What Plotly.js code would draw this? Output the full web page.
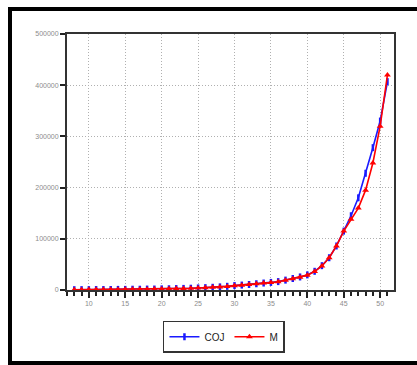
<!DOCTYPE html>
<html>
<head>
<meta charset="utf-8">
<script src="https://cdn.plot.ly/plotly-3.0.1.min.js"></script>
<style>
  html, body { margin: 0; padding: 0; background: #ffffff; }
  #wrap { position: relative; width: 417px; height: 365px; overflow: hidden; }
  #chart { position: absolute; left: 0; top: 0; width: 417px; height: 365px; }
  #frame { position: absolute; left: 8px; top: 7px; width: 430px; height: 358px;
           box-sizing: border-box; border: 4px solid #000; pointer-events: none; z-index: 10; }
</style>
</head>
<body>
<div id="wrap">
  <div id="chart"></div>
  <div id="frame"></div>
</div>
<script>
// x positions (integer steps)
const xValues = [8,9,10,11,12,13,14,15,16,17,18,19,20,21,22,23,24,25,26,27,28,29,30,31,32,33,34,35,36,37,38,39,40,41,42,43,44,45,46,47,48,49,50,51];

const cojValues = [600,700,700,900,900,1000,1200,1200,1500,1500,1800,1900,2200,2400,2800,3100,3500,4000,4600,5300,6100,7200,8600,9600,10800,12200,13600,14800,16400,19300,22400,25500,29500,36500,47500,63000,86000,115000,145000,180000,228000,278000,330000,407000];

const mValues = [500,600,800,800,1000,1000,1100,1300,1400,1600,1700,2000,2100,2500,2700,3000,3400,3900,4500,5200,6000,7000,8500,9500,10500,12000,13500,14500,16000,19000,22000,25000,29000,36000,47000,63000,86000,115000,138000,160000,195000,248000,320000,420000];

const xTickVals = [10,15,20,25,30,35,40,45,50];
const yTickVals = [0,100000,200000,300000,400000,500000];

const traces = [
  {
    x: xValues, y: cojValues, name: 'COJ', type: 'scatter', mode: 'lines+markers',
    line: {color: '#1a1aff', width: 1.6},
    marker: {symbol: 'line-ns', size: 5, color: '#1a1aff', line: {color: '#1a1aff', width: 2.5}}
  },
  {
    x: xValues, y: mValues, name: 'M', type: 'scatter', mode: 'lines+markers',
    line: {color: '#ff0000', width: 1.6},
    marker: {symbol: 'triangle-up', size: 6, color: '#ff0000'}
  }
];

const axisFont = {family: 'Liberation Sans, Arial, sans-serif', size: 7, color: '#8c8c8c'};

const layout = {
  width: 417, height: 365,
  margin: {l: 67, r: 23, t: 34, b: 69},
  paper_bgcolor: '#ffffff', plot_bgcolor: '#ffffff',
  showlegend: true,
  legend: {
    orientation: 'h', x: 0.48, xanchor: 'center', y: -0.12, yanchor: 'top',
    bordercolor: '#333333', borderwidth: 1.5, bgcolor: '#ffffff',
    font: {family: 'Liberation Sans, Arial, sans-serif', size: 10, color: '#222222'},
    itemwidth: 30, tracegroupgap: 0
  },
  xaxis: {
    range: [7, 51.9],
    tickvals: xTickVals, ticktext: xTickVals.map(String),
    ticks: 'outside', ticklen: 6, tickwidth: 2, tickcolor: '#222222',
    minor: {dtick: 1, tick0: 0, ticks: 'outside', ticklen: 4, tickwidth: 2, tickcolor: '#222222', showgrid: false},
    showgrid: true, gridcolor: '#b0b0b0', griddash: '1px,2px', gridwidth: 1,
    showline: true, linecolor: '#333333', linewidth: 2, mirror: true,
    zeroline: false, tickfont: axisFont
  },
  yaxis: {
    range: [0, 500000],
    tickvals: yTickVals, ticktext: yTickVals.map(String),
    ticks: 'outside', ticklen: 5, tickwidth: 2, tickcolor: '#222222',
    showgrid: true, gridcolor: '#b0b0b0', griddash: '1px,2px', gridwidth: 1,
    showline: true, linecolor: '#333333', linewidth: 2, mirror: true,
    zeroline: false, tickfont: axisFont
  }
};

Plotly.newPlot('chart', traces, layout, {displayModeBar: false, staticPlot: true});
</script>
</body>
</html>
